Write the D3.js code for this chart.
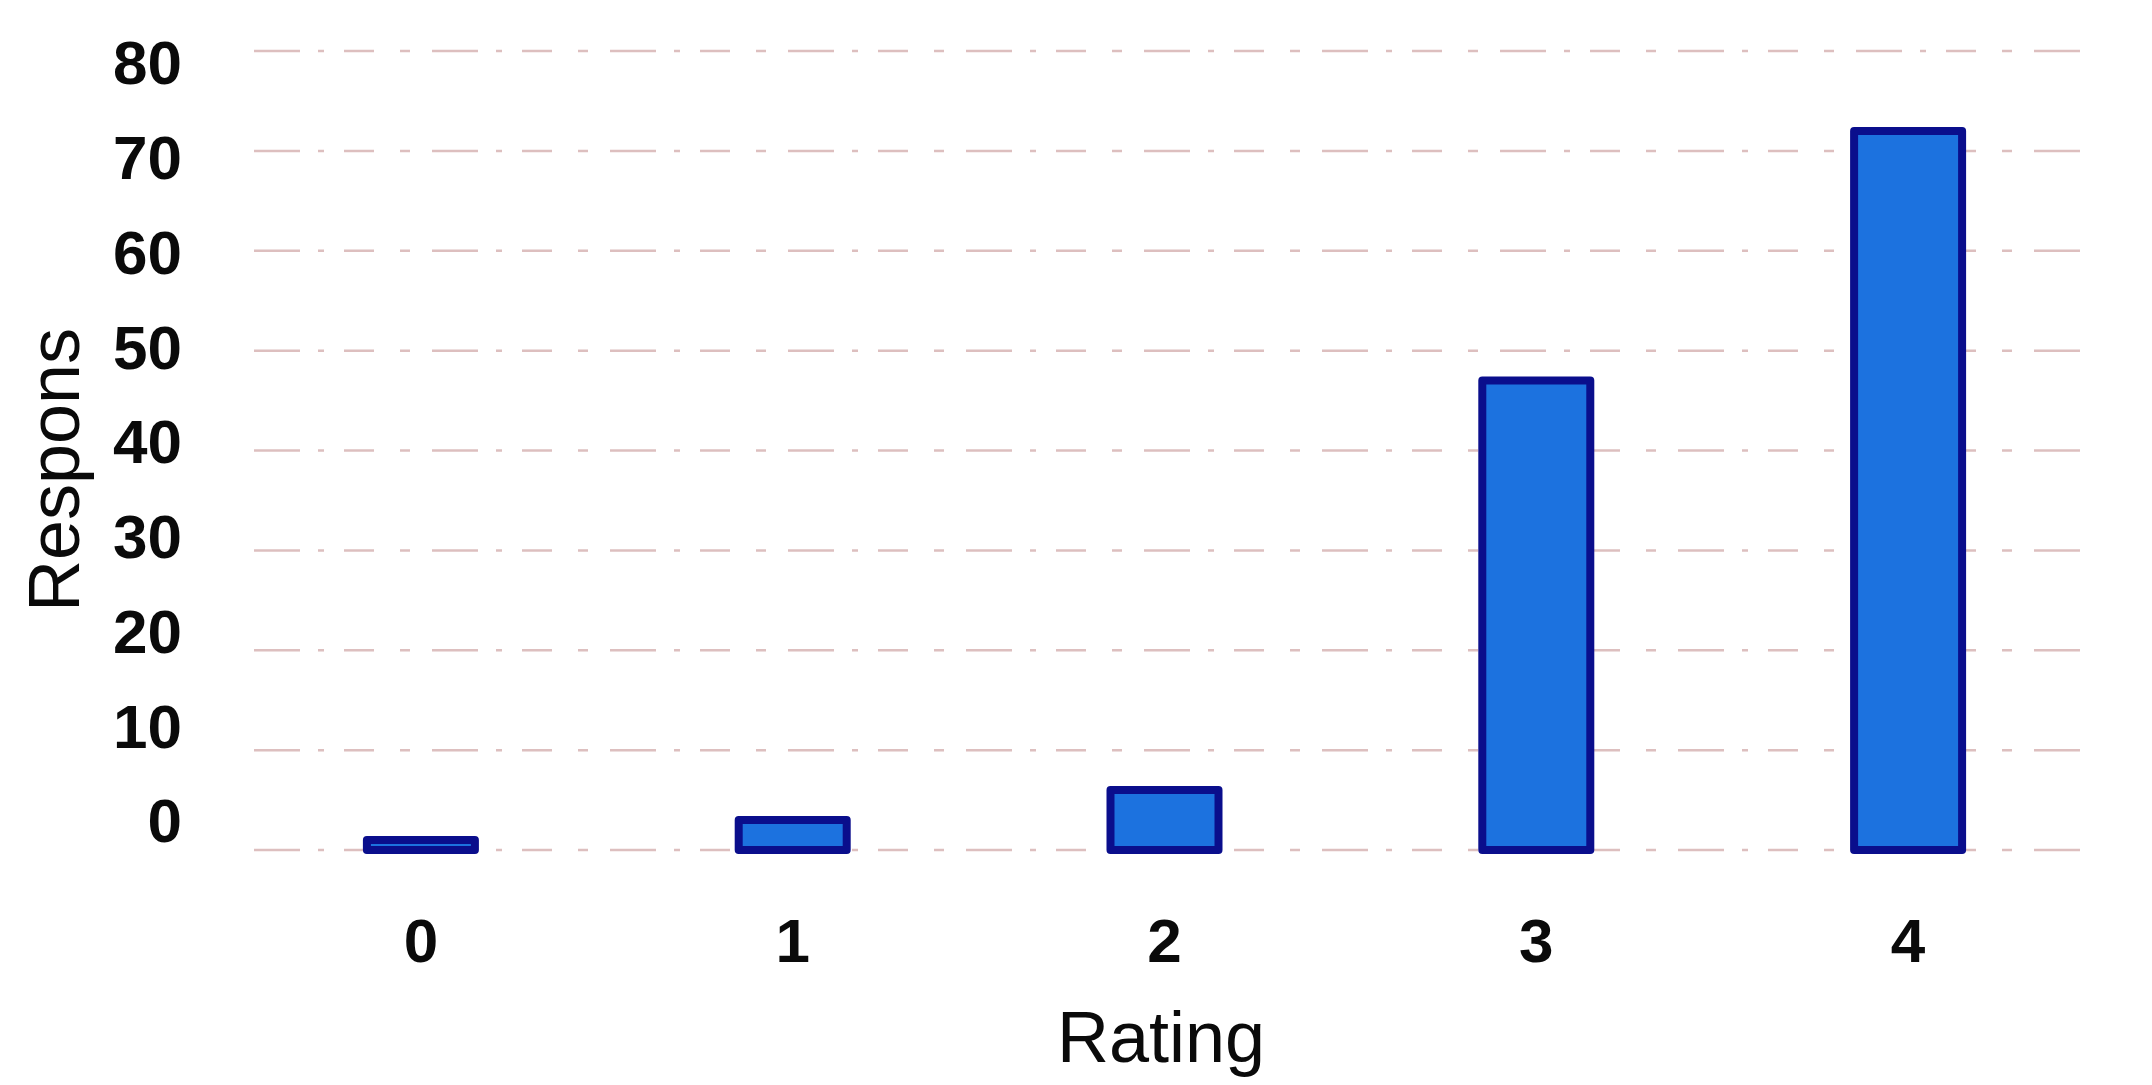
<!DOCTYPE html>
<html>
<head>
<meta charset="utf-8">
<script src="https://cdn.jsdelivr.net/npm/d3@7"></script>
<style>
  html, body { margin: 0; padding: 0; background: #ffffff; }
  svg { display: block; }
</style>
</head>
<body>
<svg id="chart" width="2152" height="1085"></svg>
<script>
// ---- data ----
const categories = ["0", "1", "2", "3", "4"];
const responses = [1, 3, 6, 47, 72];
const yTickValues = [0, 10, 20, 30, 40, 50, 60, 70, 80];
const xTitle = "Rating";
const yTitle = "Respons";

// ---- layout ----
const svg = d3.select("#chart");

const x = d3.scaleBand()
  .domain(categories)
  .range([177, 2152])
  .paddingInner(0.688)
  .paddingOuter(0.5);

// value scale (gridlines + bars)
const y = d3.scaleLinear().domain([0, 80]).range([850, 51]);
// tick-label placement (labels in the source sit slightly off the grid)
const yLabel = d3.scaleLinear().domain([0, 80]).range([822, 64]);

// gridlines
const grid = svg.append("g").attr("class", "grid");
grid.selectAll("line")
  .data(yTickValues)
  .join("line")
  .attr("x1", 254)
  .attr("x2", 2093)
  .attr("y1", d => y(d))
  .attr("y2", d => y(d))
  .attr("stroke", "#c79494")
  .attr("stroke-opacity", 0.6)
  .attr("stroke-width", 2.5)
  .attr("stroke-dasharray", "46,18,6,20,30,26,10,22");

// bars
svg.append("g").attr("class", "bars")
  .selectAll("rect")
  .data(categories.map((c, i) => ({ c, v: responses[i] })))
  .join("rect")
  .attr("x", d => x(d.c) + 4)
  .attr("width", x.bandwidth() - 8)
  .attr("y", d => y(d.v))
  .attr("height", d => y(0) - y(d.v))
  .attr("fill", "#1c72df")
  .attr("stroke", "#0a0e8c")
  .attr("stroke-width", 8)
  .attr("stroke-linejoin", "round");

// y axis labels
const yAxis = svg.append("g")
  .attr("transform", "translate(196,0)")
  .call(d3.axisLeft(yLabel).tickValues(yTickValues).tickSize(0).tickPadding(14));
yAxis.select(".domain").remove();
yAxis.selectAll("text")
  .attr("font-family", "'Liberation Sans', Arial, sans-serif")
  .attr("font-size", 62)
  .attr("font-weight", "bold")
  .attr("fill", "#0a0a0a");

// x axis labels
const xAxis = svg.append("g")
  .attr("transform", "translate(0,918)")
  .call(d3.axisBottom(x).tickSize(0).tickPadding(0));
xAxis.select(".domain").remove();
xAxis.selectAll("text")
  .attr("font-family", "'Liberation Sans', Arial, sans-serif")
  .attr("font-size", 62)
  .attr("font-weight", "bold")
  .attr("fill", "#0a0a0a");

// axis titles
svg.append("text")
  .attr("x", 1161)
  .attr("y", 1062)
  .attr("text-anchor", "middle")
  .attr("font-family", "'Liberation Sans', Arial, sans-serif")
  .attr("font-size", 72)
  .attr("fill", "#0a0a0a")
  .text(xTitle);

svg.append("text")
  .attr("transform", "translate(79,470) rotate(-90)")
  .attr("text-anchor", "middle")
  .attr("font-family", "'Liberation Sans', Arial, sans-serif")
  .attr("font-size", 72)
  .attr("fill", "#0a0a0a")
  .text(yTitle);
</script>
</body>
</html>
